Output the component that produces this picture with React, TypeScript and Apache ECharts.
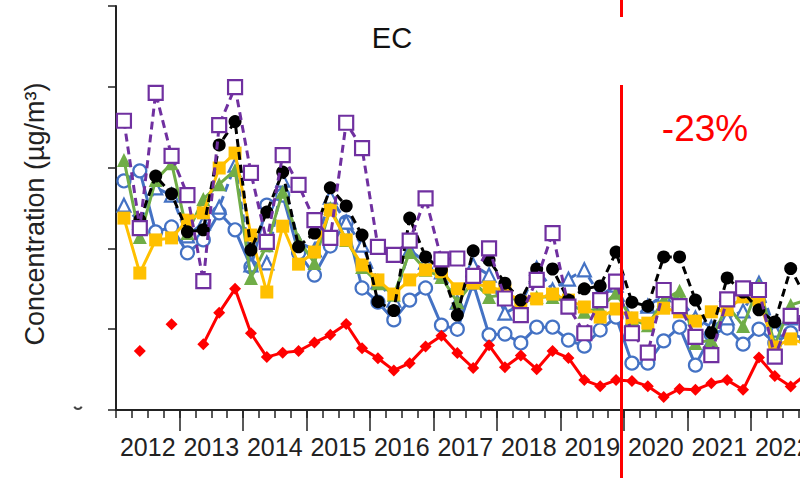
import React, { useEffect, useRef } from 'react';
import * as echarts from 'echarts';

const years = ['2012', '2013', '2014', '2015', '2016', '2017', '2018', '2019', '2020', '2021', '2022'];
const quarterNames = ['Q1', 'Q2', 'Q3', 'Q4'];
const quarters = years.flatMap((y) => quarterNames.map((q) => y + q));

const purpleSite = [0.716,0.450,0.785,0.629,0.532,0.319,0.705,0.799,0.587,0.416, 0.631,0.557,0.470,0.426,0.711,0.648,0.404,0.384,0.419,0.524, 0.373,0.375,0.332,0.400,0.276,0.235,0.322,0.438,0.256,0.190, 0.272,0.318,0.190,0.142,0.297,0.257,0.181,0.136,0.274,0.301, 0.297,0.132,0.233,0.215];
const blackSite = [null,0.470,0.579,0.535,0.441,0.446,0.656,0.714,0.396,0.490, 0.589,0.404,0.438,0.550,0.505,0.433,0.268,0.246,0.475,0.379, 0.347,0.235,0.394,0.371,0.314,0.272,0.349,0.349,0.272,0.300, 0.307,0.391,0.267,0.257,0.379,0.379,0.272,0.191,0.327,0.292, 0.248,0.218,0.350,0.275];
const greenSite = [0.619,0.428,0.569,0.611,0.438,0.522,0.559,0.594,0.327,0.408, 0.540,0.421,0.364,0.500,0.421,0.354,0.314,0.285,0.391,0.347, 0.329,0.267,0.317,0.280,0.285,0.267,0.280,0.280,0.265,0.243, 0.252,0.290,0.223,0.210,0.272,0.295,0.166,0.173,0.260,0.208, 0.309,0.161,0.260,0.272];
const blueTriangleSite = [0.507,0.465,0.550,0.532,0.431,0.463,0.502,0.606,0.359,0.364, 0.569,0.416,0.396,0.527,0.465,0.408,0.317,0.272,0.396,0.366, 0.342,0.267,0.359,0.334,0.240,0.260,0.351,0.297,0.324,0.347, 0.282,0.309,0.223,0.257,0.285,0.272,0.228,0.205,0.228,0.245, 0.314,0.198,0.228,0.223];
const blueCircleSite = [0.567,0.592,0.441,0.453,0.389,0.421,0.488,0.446,0.354,0.507, 0.532,0.389,0.334,0.406,0.465,0.302,0.267,0.223,0.272,0.302, 0.210,0.200,0.314,0.186,0.188,0.166,0.205,0.205,0.173,0.158, 0.198,0.230,0.116,0.116,0.171,0.205,0.111,0.186,0.203,0.163, 0.200,0.166,0.191,0.173];
const orangeSite = [0.475,0.339,0.421,0.426,0.470,0.488,0.599,0.636,0.433,0.292, 0.455,0.361,0.391,0.495,0.421,0.359,0.322,0.287,0.322,0.347, 0.342,0.300,0.314,0.304,0.295,0.267,0.275,0.287,0.272,0.255, 0.230,0.250,0.228,0.215,0.252,0.243,0.220,0.243,0.248,0.280, 0.272,0.156,0.176,0.163];
const redSite = [null,0.146,null,0.212,null,0.163,0.241,0.300,0.190,0.131, 0.142,0.146,0.167,0.186,0.213,0.153,0.128,0.098,0.116,0.157, 0.184,0.141,0.104,0.160,0.106,0.135,0.101,0.146,0.129,0.074, 0.059,0.074,0.072,0.059,0.032,0.052,0.050,0.066,0.074,0.050, 0.130,0.084,0.058,0.089];

const FONT = '"Liberation Sans", Arial, sans-serif';
const AXIS = '#222222';

function lineSeries(
  name: string,
  data: (number | null)[],
  color: string,
  symbol: string,
  size: number,
  filled: boolean,
  dashed: boolean,
  z: number
) {
  return {
    name,
    type: 'line',
    data,
    xAxisIndex: 0,
    yAxisIndex: 0,
    symbol,
    symbolSize: size,
    showSymbol: true,
    showAllSymbol: true,
    connectNulls: false,
    z,
    lineStyle: { color, width: 3, type: dashed ? [8, 5] : 'solid' },
    itemStyle: filled
      ? { color, borderColor: color, borderWidth: 0 }
      : { color: '#ffffff', borderColor: color, borderWidth: 2.2 },
    emphasis: { disabled: true },
  };
}

export default function App() {
  const ref = useRef<HTMLDivElement>(null);
  useEffect(() => {
    const chart = echarts.init(ref.current!, null, { renderer: 'svg' });
    chart.setOption({
      animation: false,
      backgroundColor: '#ffffff',
      grid: { left: 116, right: 15.5, top: 6, bottom: 68, containLabel: false },
      xAxis: [
        {
          type: 'category',
          data: quarters,
          position: 'bottom',
          boundaryGap: true,
          axisLine: { show: true, onZero: false, lineStyle: { color: AXIS, width: 2 } },
          axisTick: { show: true, interval: 0, length: 8, lineStyle: { color: AXIS, width: 1.5 } },
          axisLabel: { show: false },
          splitLine: { show: false },
        },
        {
          type: 'category',
          data: years,
          position: 'bottom',
          boundaryGap: true,
          axisLine: { show: false, onZero: false },
          axisTick: {
            show: true,
            interval: (i: number) => i !== 0,
            length: 21,
            lineStyle: { color: AXIS, width: 1.5 },
          },
          axisLabel: { interval: 0, fontSize: 25, color: '#222222', fontFamily: FONT, margin: 24 },
          splitLine: { show: false },
        },
      ],
      yAxis: {
        type: 'value',
        min: 0,
        max: 1,
        interval: 0.2,
        axisLine: { show: true, lineStyle: { color: AXIS, width: 2 } },
        axisTick: { show: true, length: 8, lineStyle: { color: AXIS, width: 1.5 } },
        axisLabel: { show: false },
        splitLine: { show: false },
      },
      series: [
        lineSeries('Blue circles', blueCircleSite, '#4472C4', 'circle', 13, false, false, 2),
        lineSeries('Blue triangles', blueTriangleSite, '#4472C4', 'triangle', 13, false, true, 3),
        lineSeries('Green', greenSite, '#70AD47', 'triangle', 14, true, false, 4),
        lineSeries('Orange', orangeSite, '#FFC000', 'rect', 13, true, false, 5),
        lineSeries('Black', blackSite, '#000000', 'circle', 13, true, true, 6),
        lineSeries('Purple', purpleSite, '#7030A0', 'rect', 14, false, true, 7),
        lineSeries('Red', redSite, '#FF0000', 'diamond', 12, true, false, 8),
      ],
      graphic: [
        {
          type: 'text',
          x: 392,
          y: 38,
          style: { text: 'EC', fontSize: 29, fontFamily: FONT, fill: '#111', textAlign: 'center', textVerticalAlign: 'middle' },
        },
        {
          type: 'text',
          x: 35,
          y: 214,
          rotation: Math.PI / 2,
          style: {
            text: 'Concentration (µg/m³)',
            fontSize: 27,
            fontFamily: FONT,
            fill: '#222',
            textAlign: 'center',
            textVerticalAlign: 'middle',
          },
        },
        {
          type: 'text',
          x: 705,
          y: 128,
          style: { text: '-23%', fontSize: 37, fontFamily: FONT, fill: '#FF0000', textAlign: 'center', textVerticalAlign: 'middle' },
        },
        {
          type: 'line',
          shape: { x1: 621.5, y1: 0, x2: 621.5, y2: 17 },
          style: { stroke: '#FF0000', lineWidth: 3 },
          z: 100,
        },
        {
          type: 'line',
          shape: { x1: 621.5, y1: 85, x2: 621.5, y2: 478 },
          style: { stroke: '#FF0000', lineWidth: 3 },
          z: 100,
        },
        {
          type: 'arc',
          shape: { cx: 78, cy: 405, r: 4, startAngle: 0.4, endAngle: Math.PI - 0.4 },
          style: { stroke: '#444', lineWidth: 2, fill: 'none' },
        },
      ],
    });
    return () => chart.dispose();
  }, []);
  return (
    <div style={{ position: 'absolute', left: 0, top: 0, width: 800, height: 478, overflow: 'hidden', background: '#fff' }}>
      <div ref={ref} style={{ width: 830, height: 478 }} />
    </div>
  );
}
